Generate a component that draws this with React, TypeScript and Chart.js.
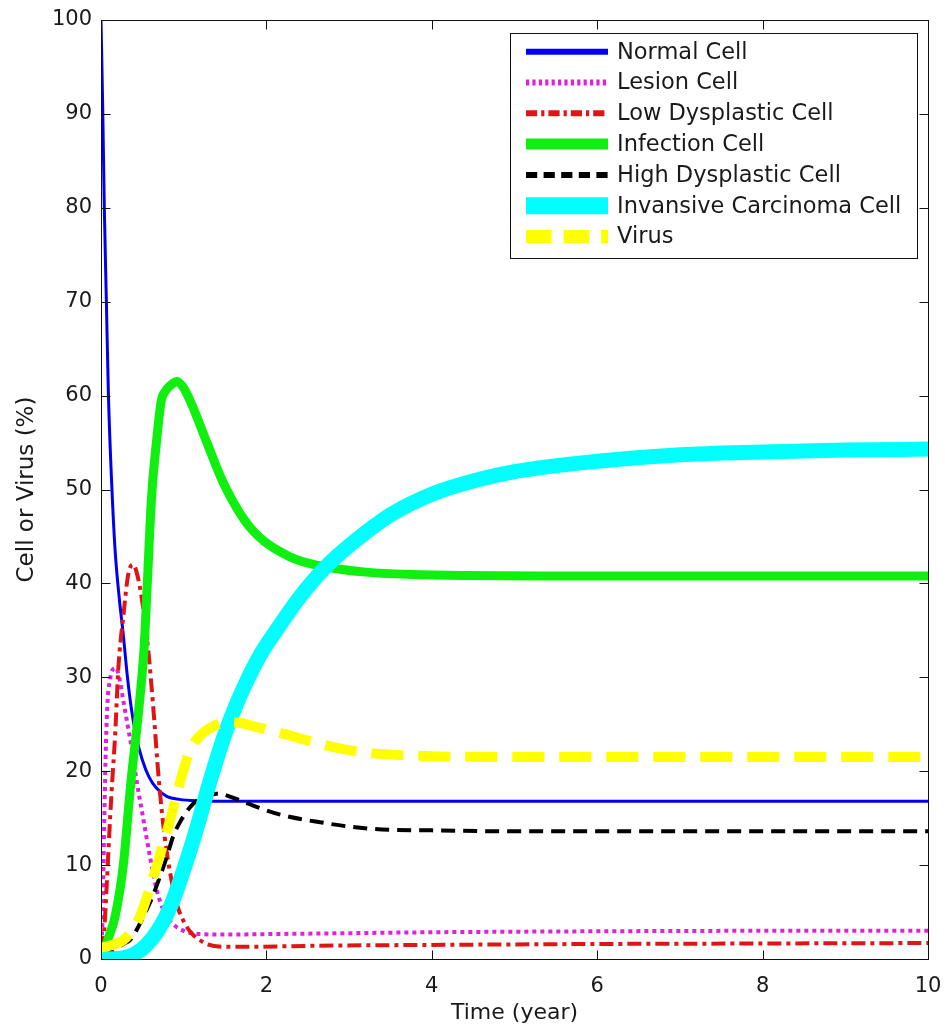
import React, { useEffect, useRef } from 'react';
import { Chart, registerables } from 'chart.js';

Chart.register(...registerables);

const FONT = '"DejaVu Sans", "Liberation Sans", sans-serif';

// ---- data ----
const seriesLabels = [
  'Normal Cell',
  'Lesion Cell',
  'Low Dysplastic Cell',
  'Infection Cell',
  'High Dysplastic Cell',
  'Invansive Carcinoma Cell',
  'Virus',
];

const normalTime = [0, 0.02, 0.04, 0.065, 0.09, 0.13, 0.17, 0.22, 0.27, 0.32, 0.37, 0.43, 0.5, 0.58, 0.67, 0.8, 0.95, 1.15, 1.5, 2, 3, 4, 6, 8, 10];
const normalValue = [100, 91, 80, 70, 60, 50.5, 43.6, 38.5, 34.5, 30, 26.5, 23.5, 21.2, 19.4, 18.2, 17.3, 17.0, 16.85, 16.8, 16.8, 16.8, 16.8, 16.8, 16.8, 16.8];

const lesionTime = [0, 0.02, 0.04, 0.06, 0.08, 0.11, 0.14, 0.18, 0.22, 0.26, 0.31, 0.37, 0.43, 0.5, 0.59, 0.67, 0.75, 0.85, 1.0, 1.2, 1.5, 2, 3, 4, 6, 8, 10];
const lesionValue = [0, 5, 15, 23, 27.5, 29.8, 30.8, 31, 30, 28, 25.5, 22.5, 19, 15.5, 11, 7.5, 5.3, 3.9, 3.0, 2.65, 2.6, 2.65, 2.75, 2.85, 2.95, 3.0, 3.0];

const lowDysTime = [0, 0.03, 0.07, 0.11, 0.14, 0.17, 0.21, 0.27, 0.33, 0.39, 0.45, 0.5, 0.57, 0.63, 0.7, 0.77, 0.85, 0.93, 1.0, 1.1, 1.28, 1.5, 1.8, 2.5, 4, 6, 8, 10];
const lowDysValue = [1, 2, 8, 15, 19.5, 23.7, 31, 36.5, 41, 42, 40.5, 38, 33, 27, 19, 13, 8.5, 5.5, 4, 2.7, 1.6, 1.3, 1.3, 1.4, 1.5, 1.6, 1.65, 1.7];

const infectionTime = [0, 0.05, 0.1, 0.17, 0.27, 0.36, 0.45, 0.52, 0.56, 0.61, 0.67, 0.73, 0.78, 0.83, 0.92, 1.0, 1.1, 1.28, 1.48, 1.8, 2.29, 2.69, 3.2, 4, 6, 8, 10];
const infectionValue = [0.5, 1.2, 2.5, 4.5, 10, 18.7, 26, 33, 40, 49, 55, 59.5, 60.5, 61, 61.5, 60.8, 59, 55, 50.7, 46, 42.8, 41.8, 41.2, 40.9, 40.8, 40.8, 40.8];

const highDysTime = [0, 0.1, 0.19, 0.27, 0.35, 0.45, 0.55, 0.63, 0.71, 0.8, 0.87, 0.95, 1.08, 1.2, 1.4, 1.68, 1.88, 2.2, 2.69, 3.0, 3.4, 4, 5, 6, 8, 10];
const highDysValue = [0.3, 0.6, 1.2, 1.6, 2, 3.4, 5.2, 6.8, 8.7, 11, 13, 14.5, 16.2, 17.1, 17.6, 16.9, 16.2, 15.3, 14.5, 14.1, 13.8, 13.7, 13.6, 13.6, 13.6, 13.6];

const carcinomaTime = [0, 0.25, 0.4, 0.55, 0.7, 0.85, 1.0, 1.16, 1.32, 1.5, 1.68, 1.9, 2.12, 2.4, 2.69, 3.0, 3.5, 4, 4.5, 5, 6, 7, 8, 9, 10];
const carcinomaValue = [0, 0.1, 0.5, 1.5, 3.2, 5.8, 9.5, 14, 19, 24, 28, 32, 35, 38.5, 41.5, 44, 47.3, 49.5, 50.9, 51.9, 53.0, 53.7, 54.0, 54.2, 54.3];

const virusTime = [0, 0.1, 0.27, 0.37, 0.47, 0.57, 0.67, 0.77, 0.87, 0.97, 1.08, 1.2, 1.32, 1.52, 1.7, 1.88, 2.2, 2.49, 2.9, 3.29, 4, 5, 6, 8, 10];
const virusValue = [1.2, 1.4, 2, 3, 4.5, 7, 9.8, 12.8, 15.9, 19.3, 22.3, 23.8, 24.6, 25.2, 25.1, 24.7, 24, 23.3, 22.4, 21.9, 21.6, 21.5, 21.5, 21.5, 21.5];

const xTickValues = [0, 2, 4, 6, 8, 10];
const yTickValues = [0, 10, 20, 30, 40, 50, 60, 70, 80, 90, 100];

const xTitle = 'Time (year)';
const yTitle = 'Cell or Virus (%)';

// ---- styles ----
const colors = ['#0000f0', '#e020e0', '#e01414', '#10f010', '#000000', '#00ffff', '#ffff00'];
const widths = [3, 4, 4, 9, 4, 15, 10];
const legendWidths = [6, 6, 6, 11, 6, 17, 13];
const dashes: number[][] = [[], [4, 4], [14, 5, 4, 5], [], [14, 8], [], [32, 15]];

const pts = (t: number[], v: number[]) => t.map((x, i) => ({ x, y: v[i] }));

const seriesData = [
  pts(normalTime, normalValue),
  pts(lesionTime, lesionValue),
  pts(lowDysTime, lowDysValue),
  pts(infectionTime, infectionValue),
  pts(highDysTime, highDysValue),
  pts(carcinomaTime, carcinomaValue),
  pts(virusTime, virusValue),
];

const framePlugin = {
  id: 'matlabFrame',
  afterDatasetsDraw(chart: any) {
    const { ctx, chartArea: a, scales } = chart;
    const x = scales.x;
    const y = scales.y;
    const L = Math.round(a.left) + 0.5;
    const R = Math.round(a.right) + 0.5;
    const T = Math.round(a.top) + 0.5;
    const B = Math.round(a.bottom) + 0.5;
    const tl = 9;
    ctx.save();
    ctx.strokeStyle = '#111';
    ctx.lineWidth = 1;
    ctx.beginPath();
    ctx.rect(L, T, R - L, B - T);
    xTickValues.forEach((v) => {
      const px = Math.round(x.getPixelForValue(v)) + 0.5;
      ctx.moveTo(px, B);
      ctx.lineTo(px, B - tl);
      ctx.moveTo(px, T);
      ctx.lineTo(px, T + tl);
    });
    yTickValues.forEach((v) => {
      const py = Math.round(y.getPixelForValue(v)) + 0.5;
      ctx.moveTo(L, py);
      ctx.lineTo(L + tl, py);
      ctx.moveTo(R, py);
      ctx.lineTo(R - tl, py);
    });
    ctx.stroke();
    ctx.restore();
  },
};

const legendPlugin = {
  id: 'matlabLegend',
  afterDraw(chart: any) {
    const { ctx } = chart;
    const bx = 510.5;
    const by = 33.5;
    const bw = 407;
    const bh = 225;
    ctx.save();
    ctx.fillStyle = '#ffffff';
    ctx.fillRect(bx, by, bw, bh);
    ctx.strokeStyle = '#111';
    ctx.lineWidth = 1;
    ctx.strokeRect(bx, by, bw, bh);
    const rowH = 30.8;
    const firstY = 51.7;
    chart.data.datasets.forEach((ds: any, i: number) => {
      const cy = firstY + i * rowH;
      ctx.beginPath();
      ctx.strokeStyle = ds.borderColor;
      ctx.lineWidth = legendWidths[i];
      ctx.setLineDash(dashes[i].map((d) => d * 0.8));
      ctx.lineCap = 'butt';
      ctx.moveTo(526, cy);
      ctx.lineTo(608, cy);
      ctx.stroke();
      ctx.setLineDash([]);
      ctx.fillStyle = '#1a1a1a';
      ctx.font = `22.5px ${FONT}`;
      ctx.textBaseline = 'middle';
      ctx.textAlign = 'left';
      ctx.fillText(ds.label, 617, cy + 1);
    });
    ctx.restore();
  },
};

export default function App() {
  const canvasRef = useRef<HTMLCanvasElement | null>(null);

  useEffect(() => {
    if (!canvasRef.current) return;
    const datasets = seriesData.map((data, i) => ({
      label: seriesLabels[i],
      data,
      borderColor: colors[i],
      backgroundColor: colors[i],
      borderWidth: widths[i],
      borderDash: dashes[i],
      borderCapStyle: 'butt' as const,
      borderJoinStyle: 'round' as const,
      pointRadius: 0,
      pointHoverRadius: 0,
      fill: false,
      cubicInterpolationMode: 'monotone' as const,
      order: seriesData.length - i,
    }));

    const chart = new Chart(canvasRef.current, {
      type: 'line',
      data: { datasets },
      plugins: [framePlugin, legendPlugin],
      options: {
        animation: false,
        responsive: false,
        devicePixelRatio: 1,
        layout: { padding: { top: 20, right: 17, left: 0, bottom: 0 } },
        plugins: {
          legend: { display: false },
          tooltip: { enabled: false },
        },
        scales: {
          x: {
            type: 'linear',
            min: 0,
            max: 10,
            afterFit: (s: any) => {
              s.height = 71;
              s.paddingLeft = 0;
              s.paddingRight = 0;
            },
            afterBuildTicks: (s: any) => {
              s.ticks = xTickValues.map((v) => ({ value: v }));
            },
            grid: { display: false, drawTicks: false },
            border: { display: false },
            ticks: {
              padding: 15,
              color: '#1a1a1a',
              font: { family: FONT, size: 21 },
              maxRotation: 0,
            },
            title: {
              display: true,
              text: xTitle,
              color: '#1a1a1a',
              font: { family: FONT, size: 22 },
              padding: { top: 0, bottom: 4 },
            },
          },
          y: {
            type: 'linear',
            min: 0,
            max: 100,
            afterFit: (s: any) => {
              s.width = 101;
              s.paddingTop = 0;
              s.paddingBottom = 0;
            },
            afterBuildTicks: (s: any) => {
              s.ticks = yTickValues.map((v) => ({ value: v }));
            },
            grid: { display: false, drawTicks: false },
            border: { display: false },
            ticks: {
              padding: 9,
              color: '#1a1a1a',
              font: { family: FONT, size: 21 },
            },
            title: {
              display: true,
              text: yTitle,
              color: '#1a1a1a',
              font: { family: FONT, size: 23 },
              padding: { top: 13, bottom: 0 },
            },
          },
        },
      },
    });
    return () => chart.destroy();
  }, []);

  return (
    <div style={{ position: 'absolute', left: 0, top: 0, width: 945, height: 1030, background: '#fff' }}>
      <canvas ref={canvasRef} width={945} height={1030} style={{ display: 'block' }} />
    </div>
  );
}
